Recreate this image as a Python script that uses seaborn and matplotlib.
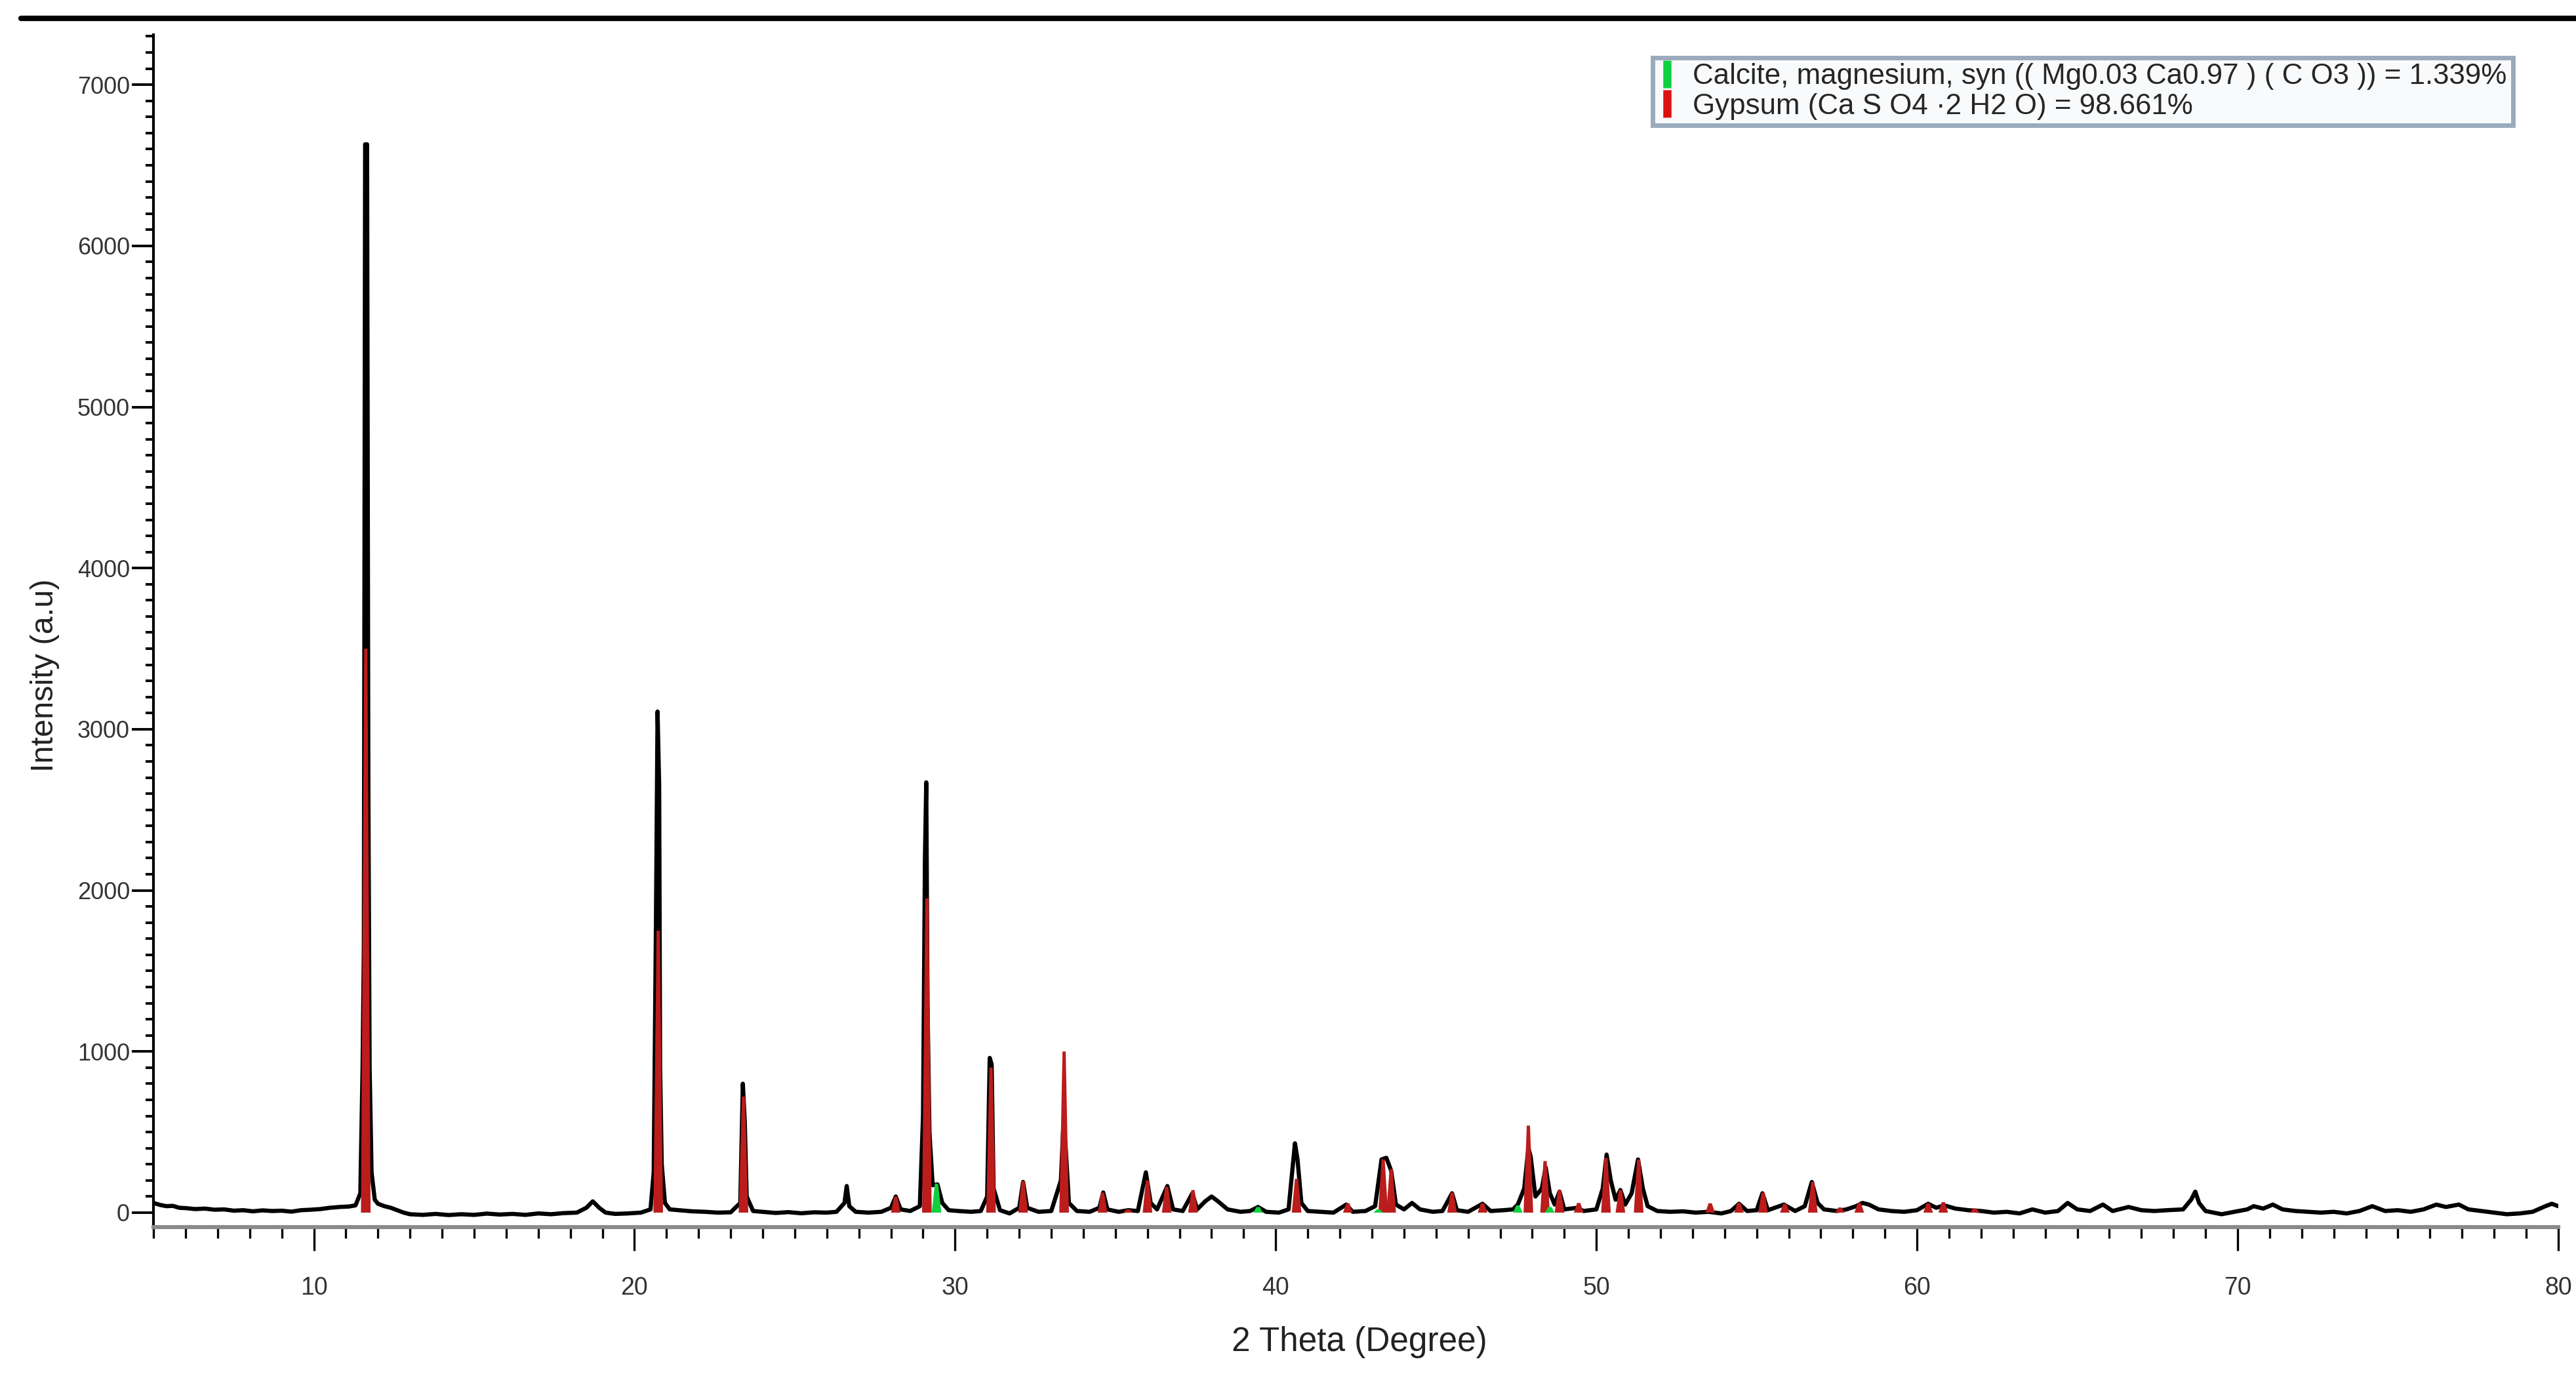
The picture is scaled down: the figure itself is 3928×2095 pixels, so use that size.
import numpy as np
import pandas as pd
import seaborn as sns
import matplotlib.pyplot as plt
from matplotlib.lines import Line2D
from matplotlib.ticker import MultipleLocator

obs_2theta = [
    5.0, 5.2, 5.4, 5.6, 5.8, 6.0, 6.3, 6.6, 6.9, 7.2, 7.5, 7.8, 8.1, 8.4, 8.7, 9.0, 9.3, 9.6, 9.9,
    10.2, 10.5, 10.8, 11.1, 11.3, 11.45, 11.52, 11.56, 11.6, 11.66, 11.7, 11.74, 11.8, 11.9, 12.0,
    12.2, 12.4, 12.6, 12.8, 13.0, 13.4, 13.8, 14.2, 14.6, 15.0, 15.4, 15.8, 16.2, 16.6, 17.0, 17.4,
    17.8, 18.2, 18.5, 18.7, 18.9, 19.1, 19.4, 19.8, 20.2, 20.5, 20.6, 20.67, 20.72, 20.77, 20.8,
    20.85, 20.95, 21.1, 21.4, 21.8, 22.2, 22.6, 23.0, 23.3, 23.38, 23.44, 23.5, 23.7, 24.0, 24.4,
    24.8, 25.2, 25.6, 26.0, 26.3, 26.55, 26.62, 26.7, 26.9, 27.3, 27.7, 28.0, 28.15, 28.3, 28.6,
    28.9, 29.0, 29.06, 29.1, 29.14, 29.2, 29.3, 29.45, 29.6, 29.8, 30.1, 30.5, 30.8, 31.0, 31.08,
    31.14, 31.2, 31.4, 31.7, 32.0, 32.12, 32.25, 32.6, 33.0, 33.3, 33.38, 33.45, 33.55, 33.8, 34.2,
    34.5, 34.62, 34.75, 35.1, 35.4, 35.7, 35.95, 36.1, 36.3, 36.62, 36.8, 37.1, 37.4, 37.55, 37.8,
    38.0, 38.2, 38.5, 38.9, 39.2, 39.45, 39.7, 40.1, 40.4, 40.6, 40.68, 40.8, 41.0, 41.4, 41.8,
    42.2, 42.4, 42.8, 43.1, 43.3, 43.45, 43.6, 43.75, 44.0, 44.25, 44.5, 44.9, 45.2, 45.5, 45.65,
    46.0, 46.45, 46.7, 47.1, 47.4, 47.55, 47.75, 47.88, 47.95, 48.1, 48.3, 48.42, 48.55, 48.7,
    48.85, 49.0, 49.4, 49.6, 50.0, 50.2, 50.32, 50.45, 50.6, 50.75, 50.9, 51.1, 51.3, 51.45, 51.6,
    51.9, 52.3, 52.7, 53.1, 53.5, 53.9, 54.2, 54.45, 54.7, 55.0, 55.18, 55.35, 55.85, 56.2, 56.5,
    56.72, 56.9, 57.1, 57.5, 57.8, 58.1, 58.3, 58.5, 58.8, 59.2, 59.6, 60.0, 60.35, 60.6, 60.85,
    61.2, 61.6, 62.0, 62.4, 62.8, 63.2, 63.6, 64.0, 64.4, 64.7, 65.0, 65.4, 65.8, 66.1, 66.6, 67.0,
    67.4, 67.8, 68.3, 68.55, 68.68, 68.8, 69.0, 69.5, 69.9, 70.3, 70.5, 70.8, 71.1, 71.4, 71.8,
    72.2, 72.6, 73.0, 73.4, 73.8, 74.2, 74.6, 75.0, 75.4, 75.8, 76.2, 76.5, 76.9, 77.2, 77.6, 78.0,
    78.4, 78.8, 79.2, 79.6, 79.8, 80.0,
]
obs_counts = [
    60, 48, 40, 42, 30, 28, 22, 25, 18, 20, 12, 15, 8, 14, 10, 12, 6, 15, 18,
    22, 30, 35, 38, 45, 120, 900, 1650, 6630, 6630, 2650, 900, 250, 80, 55,
    40, 30, 15, 0, -10, -14, -8, -15, -10, -14, -6, -12, -8, -14, -5, -10,
    -3, 0, 30, 70, 30, 0, -8, -5, 0, 20, 250, 1800, 3110, 2650, 900,
    300, 60, 20, 15, 8, 5, 0, 2, 60, 800, 560, 100, 10, 5, -2,
    3, -4, 2, 0, 5, 60, 165, 40, 5, 0, 5, 30, 100, 20, 10,
    40, 600, 2200, 2670, 1300, 500, 170, 175, 60, 15, 10, 5, 10, 100, 960,
    920, 150, 15, -5, 30, 190, 30, 5, 10, 200, 560, 400, 60, 10, 5,
    30, 125, 20, 5, 15, 10, 250, 60, 20, 165, 20, 10, 120, 20, 70,
    100, 70, 20, 5, 10, 35, 5, 0, 20, 430, 330, 60, 10, 5, 0,
    50, 5, 10, 40, 330, 340, 260, 50, 20, 60, 20, 5, 10, 120, 15,
    5, 55, 10, 15, 20, 50, 150, 400, 350, 100, 150, 280, 120, 50,
    130, 20, 30, 10, 20, 150, 360, 200, 80, 140, 50, 120, 330, 150, 40,
    10, 5, 8, 0, 5, -5, 10, 55, 10, 15, 120, 15, 50, 10, 40,
    190, 60, 20, 10, 20, 40, 60, 50, 20, 10, 5, 15, 55, 30, 45,
    25, 15, 10, 0, 5, -5, 20, 0, 10, 60, 20, 10, 50, 10, 35, 15,
    10, 15, 20, 80, 130, 60, 10, -10, 5, 20, 40, 25, 50, 20, 10,
    5, 0, 5, -5, 10, 40, 10, 15, 5, 20, 50, 35, 50, 20, 10, 0,
    -10, -5, 5, 40, 55, 40,
]

# reference peaks of the fitted phases
gypsum_2theta = [11.62, 20.74, 23.4, 28.15, 29.12, 31.12, 32.12, 33.4, 34.6, 35.4, 36.0, 36.6,
                 37.42, 40.65, 42.25, 43.35, 43.6, 45.5, 46.45, 47.88, 48.4, 48.85, 49.45, 50.3,
                 50.75, 51.32, 53.55, 54.45, 55.2, 55.88, 56.75, 57.6, 58.2, 60.35, 60.82, 61.8]
gypsum_counts = [3500, 1750, 720, 100, 1950, 900, 195, 1000, 125, 20, 200, 160,
                 140, 210, 58, 330, 270, 125, 58, 540, 320, 140, 60, 340,
                 140, 330, 58, 60, 125, 55, 190, 32, 60, 58, 65, 26]
calcite_2theta = [29.42, 39.45, 43.2, 47.55, 48.55]
calcite_counts = [180, 35, 20, 45, 35]

legend_labels = ["Calcite, magnesium, syn (( Mg0.03 Ca0.97 ) ( C O3 )) = 1.339%",
                 "Gypsum (Ca S O4 \u00b72 H2 O) = 98.661%"]

sns.set_theme(style="ticks")
plt.rcParams["font.family"] = ["Liberation Sans", "DejaVu Sans"]

fig = plt.figure(figsize=(19.64, 10.475), dpi=200)
ax = fig.add_axes([0.0596, 0.1069, 0.9335, 0.8678])

df = pd.DataFrame({"two_theta": obs_2theta, "counts": obs_counts})
sns.lineplot(data=df, x="two_theta", y="counts", ax=ax, color="black", lw=2.3,
             estimator=None, sort=False, zorder=2)

# phase peaks drawn as narrow filled profiles on top of the trace
for p, h in zip(gypsum_2theta, gypsum_counts):
    ax.fill([p - 0.15, p - 0.05, p + 0.05, p + 0.15], [0, h, h, 0], color="#bb1c1c", lw=0, zorder=3)
for p, h in zip(calcite_2theta, calcite_counts):
    ax.fill([p - 0.15, p - 0.05, p + 0.05, p + 0.15], [0, h, h, 0], color="#10d040", lw=0, zorder=3)

ax.set_xlim(5, 80)
ax.set_ylim(-90, 7310)
ax.xaxis.set_major_locator(MultipleLocator(10))
ax.xaxis.set_minor_locator(MultipleLocator(1))
ax.yaxis.set_major_locator(MultipleLocator(1000))
ax.yaxis.set_minor_locator(MultipleLocator(100))

sns.despine(ax=ax)
ax.spines["left"].set_linewidth(1.5)
ax.spines["left"].set_color("black")
ax.spines["bottom"].set_linewidth(2.2)
ax.spines["bottom"].set_color("#8a8a8a")

ax.tick_params(axis="y", which="major", length=12, width=1.4, color="black", pad=1,
               labelsize=13, labelcolor="#333333")
ax.tick_params(axis="y", which="minor", length=4.5, width=1.4, color="black")
ax.tick_params(axis="x", which="major", length=13, width=1.2, color="black", pad=14,
               labelsize=13.5, labelcolor="#333333")
ax.tick_params(axis="x", which="minor", length=6, width=1.2, color="black")

ax.set_xlabel("2 Theta (Degree)", fontsize=18.5, color="#222222")
ax.set_ylabel("Intensity (a.u)", fontsize=17.5, color="#222222")
ax.xaxis.set_label_coords(0.5015, -0.083)
ax.yaxis.set_label_coords(-0.039, 0.463)

handles = [Line2D([], [], marker="|", linestyle="none", color="#10d040", markersize=15, markeredgewidth=4.5),
           Line2D([], [], marker="|", linestyle="none", color="#dd1010", markersize=15, markeredgewidth=4.5)]
leg = ax.legend(handles, legend_labels, loc="upper left", bbox_to_anchor=(0.6234, 0.981),
                fontsize=15.8, frameon=True, fancybox=False, framealpha=1, borderpad=0.2,
                handlelength=0.6, handletextpad=0.6, labelspacing=0.1, borderaxespad=0)
leg.get_frame().set_edgecolor("#9aabbd")
leg.get_frame().set_facecolor("#f8fafc")
leg.get_frame().set_linewidth(2.5)

# heavy rule along the top of the page
fig.add_artist(Line2D([32 / 3928, 1], [1 - 28 / 2095] * 2, transform=fig.transFigure,
                      color="black", lw=3))

plt.savefig("out.png", dpi=200)
